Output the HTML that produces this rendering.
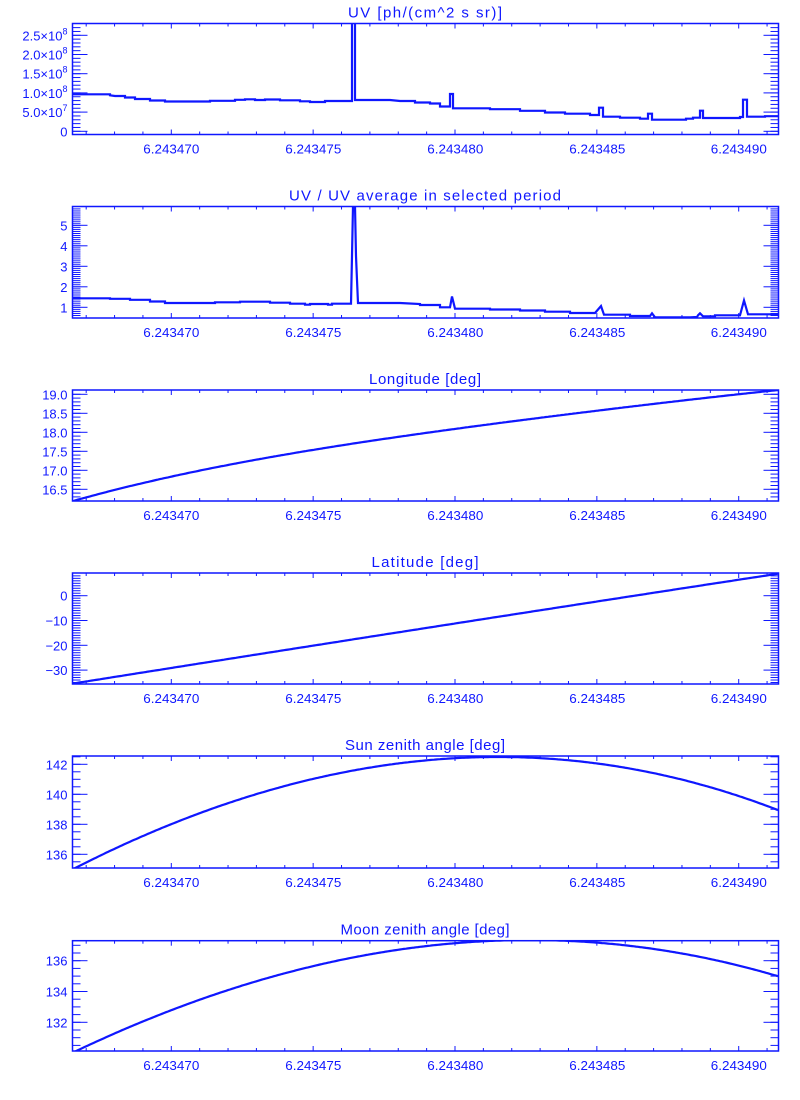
<!DOCTYPE html>
<html><head><meta charset="utf-8"><style>
html,body{margin:0;padding:0;background:#fff;}
svg{display:block;font-family:"Liberation Sans",sans-serif;}
</style></head><body>
<svg id="s" width="800" height="1100" xmlns="http://www.w3.org/2000/svg"></svg>
<script>
const C="#0f17ff";
const s=document.getElementById('s');
let h='';
const L=72.5,R=778.5;
const xt=[171.3,313.3,455.3,597.3,738.8];
const xl=["6.243470","6.243475","6.243480","6.243485","6.243490"];
function polyfit(pts,deg){
  const n=deg+1;const A=[];for(let i=0;i<n;i++){A.push(new Array(n+1).fill(0));}
  for(const [x0,y] of pts){const x=(x0-425)/353;const p=[];for(let i=0;i<2*n;i++)p.push(Math.pow(x,i));
    for(let i=0;i<n;i++){for(let j=0;j<n;j++)A[i][j]+=p[i+j];A[i][n]+=y*p[i];}}
  for(let i=0;i<n;i++){let m=i;for(let k=i+1;k<n;k++)if(Math.abs(A[k][i])>Math.abs(A[m][i]))m=k;[A[i],A[m]]=[A[m],A[i]];
    for(let k=0;k<n;k++){if(k==i)continue;const f=A[k][i]/A[i][i];for(let j=i;j<=n;j++)A[k][j]-=f*A[i][j];}}
  const c=A.map((r,i)=>r[n]/r[i]);
  const out=[];for(let X=72;X<=779;X+=2){const x=(X-425)/353;let y=0;for(let i=0;i<n;i++)y+=c[i]*Math.pow(x,i);out.push([X,y]);}
  return out;
}
function line(pts,clipId){
  return `<polyline clip-path="url(#${clipId})" fill="none" stroke="${C}" stroke-width="2.2" stroke-linejoin="miter" points="${pts.map(p=>p[0].toFixed(1)+','+p[1].toFixed(1)).join(' ')}"/>`;
}
function panel(o){
  const {top,bot,title,yMaj,yMin,pts,id,tl}=o;
  h+=`<clipPath id="${id}"><rect x="${L}" y="${top}" width="${R-L}" height="${bot-top}"/></clipPath>`;
  h+=`<rect x="${L}" y="${top}" width="${R-L}" height="${bot-top}" fill="none" stroke="${C}" stroke-width="1.5"/>`;
  h+=`<text x="425" y="${top-6}" font-size="15" fill="${C}" text-anchor="middle" textLength="${tl}" lengthAdjust="spacing">${title}</text>`;
  for(let k=-1;k<=5;k++){
    for(let m=0;m<5;m++){
      const x=171.3+(k*5+m)*28.37;
      if(x<=L+0.5||x>=R-0.5)continue;
      const len=m==0?5:3;
      h+=`<line x1="${x}" y1="${bot}" x2="${x}" y2="${bot-len}" stroke="${C}"/>`;
      h+=`<line x1="${x}" y1="${top}" x2="${x}" y2="${top+len}" stroke="${C}"/>`;
    }
  }
  xt.forEach((x,i)=>{h+=`<text x="${x}" y="${bot+19}" font-size="13" fill="${C}" text-anchor="middle" textLength="56" lengthAdjust="spacingAndGlyphs">${xl[i]}</text>`;});
  yMin.forEach(y=>{if(y>top+0.5&&y<bot-0.5){
    h+=`<line x1="${L}" y1="${y}" x2="${L+8}" y2="${y}" stroke="${C}"/><line x1="${R}" y1="${y}" x2="${R-8}" y2="${y}" stroke="${C}"/>`;}});
  yMaj.forEach(([y,lab])=>{
    h+=`<line x1="${L}" y1="${y}" x2="${L+15}" y2="${y}" stroke="${C}"/><line x1="${R}" y1="${y}" x2="${R-15}" y2="${y}" stroke="${C}"/>`;
    h+=`<text x="${L-5}" y="${y+5}" font-size="13" fill="${C}" text-anchor="end">${lab}</text>`;
  });
  h+=line(pts,id);
}
function range(a,b,st){let r=[];for(let v=a;v<=b+1e-9;v+=st)r.push(v);return r;}
{
 const y0=131.3,pp=38.4;
 const maj=[[y0,"0"],[y0-pp*0.5,"5.0×10<tspan font-size='9' dy='-6'>7</tspan>"],[y0-pp,"1.0×10<tspan font-size='9' dy='-6'>8</tspan>"],[y0-pp*1.5,"1.5×10<tspan font-size='9' dy='-6'>8</tspan>"],[y0-pp*2,"2.0×10<tspan font-size='9' dy='-6'>8</tspan>"],[y0-pp*2.5,"2.5×10<tspan font-size='9' dy='-6'>8</tspan>"]];
 const mn=range(-1,28,1).map(v=>y0-v*pp/10);
 const pts=[[72,94.3],[110,94.3],[110,95.3],[115,96],[125,96],[125,97.5],[135,97.5],[135,99],[150,99],[150,100.5],[165,100.5],[165,101.5],[210,101.5],[210,100.8],[235,100.8],[235,99.8],[245,99.8],[245,99.3],[255,99.3],[255,100],[265,100],[265,99.5],[280,99.5],[280,100.3],[300,100.3],[300,101.3],[310,101.3],[310,102],[325,102],[325,101],[352,101],[352,10],[355,10],[355,100],[390,100],[400,101],[415,101],[415,102.5],[430,102.5],[430,103.5],[440,103.5],[440,106.5],[450,106.5],[450,94],[453,94],[453,108.3],[490,108.3],[490,109.2],[520,109.2],[520,110.8],[545,110.8],[545,112.5],[565,112.5],[565,113.7],[590,113.7],[590,115],[599,115],[599,107.7],[603,107.7],[603,116.7],[620,116.7],[620,117.7],[640,117.7],[640,118.7],[648,118.7],[648,113.7],[652,113.7],[652,119.7],[686,119.7],[686,118.7],[693,118.7],[693,117.7],[700,117.7],[700,110.7],[703,110.7],[703,118],[740,118],[740,117],[743,117],[743,99.7],[747,99.7],[747,116.7],[765,116.7],[765,116.2],[778,116.2]];
 panel({id:"c1",top:23.5,bot:134.5,title:"UV [ph/(cm^2 s sr)]",tl:154,yMaj:maj,yMin:mn,pts});
}
{
 const y1=307.3,pu=20.5;
 const maj=[1,2,3,4,5].map(v=>[y1-(v-1)*pu,String(v)]);
 const mn=range(0.5,5.9,0.1).map(v=>y1-(v-1)*pu);
 const pts=[[72,298.3],[110,298.3],[110,298.8],[130,298.8],[130,299.8],[150,299.8],[150,301.5],[165,301.5],[165,303],[210,303],[215,303],[215,302.3],[240,302.3],[240,301.7],[270,301.7],[270,302.7],[290,302.7],[290,303.7],[305,303.7],[305,304.7],[310,304.7],[310,304],[328,304],[328,304.7],[332,304.7],[332,303.7],[351,303.7],[352,256],[353,206],[355,206],[356,256],[357,280],[358,303],[400,303],[420,304],[420,305],[440,305],[440,307.3],[450,307.3],[452,296.5],[455,308.7],[490,308.7],[490,309.5],[520,309.5],[520,310.5],[545,310.5],[545,311.7],[570,311.7],[570,313],[595,313],[601,306],[604,314.7],[630,314.7],[630,316],[650,316],[652,313.3],[655,317.3],[690,317.3],[697,317],[698,315.3],[700,313.3],[703,316.3],[715,316.3],[715,315.3],[740,315.3],[744,300.5],[748,314.3],[778,314.3]];
 panel({id:"c2",top:206.5,bot:318,title:"UV / UV average in selected period",tl:272,yMaj:maj,yMin:mn,pts});
}
{
 const y19=394.3,pu=38;
 const maj=[19.0,18.5,18.0,17.5,17.0,16.5].map(v=>[y19-(v-19)*pu,v.toFixed(1)]);
 const mn=range(16.1,19.1,0.1).map(v=>y19-(v-19)*pu);
 const base=[[72,500.7],[87,497],[100,495],[110,491.7],[143,482.7],[171,476],[213,466.7],[267,458.3],[313,450.7],[367,441.7],[400,437],[433,432.7],[467,426.7],[500,421.7],[533,418.3],[567,414.3],[600,410.7],[633,406.7],[667,402.7],[700,398.5],[733,395],[767,391],[778,390]];
 panel({id:"c3",top:390,bot:501,title:"Longitude [deg]",tl:112,yMaj:maj,yMin:mn,pts:polyfit(base,4)});
}
{
 const y0=595.7,pu=2.48;
 const maj=[[595.7,"0"],[595.7+24.8,"−10"],[595.7+49.6,"−20"],[595.7+74.4,"−30"]];
 const mn=range(-35,9,1).map(v=>y0-v*pu);
 const base=[[72,683.5],[171,668],[313,646],[400,632.5],[597,600.5],[738,580],[778,574]];
 panel({id:"c4",top:573,bot:684,title:"Latitude [deg]",tl:107,yMaj:maj,yMin:mn,pts:polyfit(base,2)});
}
{
 const y142=764.3,pu=15;
 const maj=[142,140,138,136].map(v=>[y142-(v-142)*pu,String(v)]);
 const mn=range(135.5,142.5,0.5).map(v=>y142-(v-142)*pu);
 const base=[[72,867.5],[100,858],[143,836.7],[171,824.3],[213,807],[267,791.7],[313,779.3],[367,769.3],[400,762.3],[433,759.3],[467,757.3],[500,756.7],[533,756.7],[560,758.5],[593,763.3],[627,769],[660,775.7],[693,783.3],[727,792.7],[760,802.7],[778,809.3]];
 panel({id:"c5",top:756,bot:868,title:"Sun zenith angle [deg]",tl:160,yMaj:maj,yMin:mn,pts:polyfit(base,3)});
}
{
 const y136=960.7,pu=15.4;
 const maj=[136,134,132].map(v=>[y136-(v-136)*pu,String(v)]);
 const mn=range(130.5,137,0.5).map(v=>y136-(v-136)*pu);
 const base=[[72,1051],[100,1043.3],[143,1021.7],[171,1009.3],[213,993.3],[267,978.3],[313,967.5],[367,955.5],[400,948.7],[433,945],[467,942.3],[500,940.5],[550,940.2],[592,943],[633,946.7],[667,950.7],[700,956.5],[733,963.3],[767,972.7],[778,977.3]];
 panel({id:"c6",top:940.7,bot:1051,title:"Moon zenith angle [deg]",tl:169,yMaj:maj,yMin:mn,pts:polyfit(base,3)});
}
s.innerHTML=h;
</script>
</body></html>
